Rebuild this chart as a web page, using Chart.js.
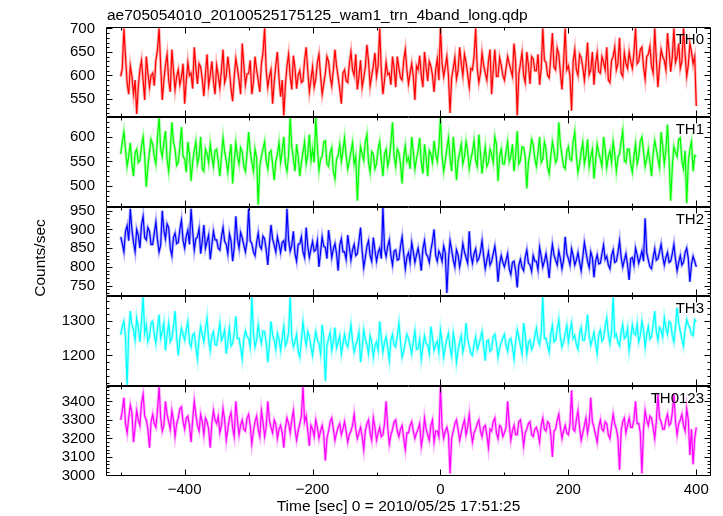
<!DOCTYPE html>
<html><head><meta charset="utf-8">
<script src="https://cdn.jsdelivr.net/npm/chart.js@4/dist/chart.umd.min.js"></script>
<style>html,body{margin:0;padding:0;background:#fff;}canvas{display:block;}</style>
</head><body>
<canvas id="c" width="723" height="516"></canvas>
<script>
const TIME = [
-500,-497.5,-495,-492.5,-490,-487.5,-485,-482.5,-480,-477.5,-475,-472.5,-470,-467.5,-465,-462.5,-460,-457.5,-455,-452.5,
-450,-447.5,-445,-442.5,-440,-437.5,-435,-432.5,-430,-427.5,-425,-422.5,-420,-417.5,-415,-412.5,-410,-407.5,-405,-402.5,
-400,-397.5,-395,-392.5,-390,-387.5,-385,-382.5,-380,-377.5,-375,-372.5,-370,-367.5,-365,-362.5,-360,-357.5,-355,-352.5,
-350,-347.5,-345,-342.5,-340,-337.5,-335,-332.5,-330,-327.5,-325,-322.5,-320,-317.5,-315,-312.5,-310,-307.5,-305,-302.5,
-300,-297.5,-295,-292.5,-290,-287.5,-285,-282.5,-280,-277.5,-275,-272.5,-270,-267.5,-265,-262.5,-260,-257.5,-255,-252.5,
-250,-247.5,-245,-242.5,-240,-237.5,-235,-232.5,-230,-227.5,-225,-222.5,-220,-217.5,-215,-212.5,-210,-207.5,-205,-202.5,
-200,-197.5,-195,-192.5,-190,-187.5,-185,-182.5,-180,-177.5,-175,-172.5,-170,-167.5,-165,-162.5,-160,-157.5,-155,-152.5,
-150,-147.5,-145,-142.5,-140,-137.5,-135,-132.5,-130,-127.5,-125,-122.5,-120,-117.5,-115,-112.5,-110,-107.5,-105,-102.5,
-100,-97.5,-95,-92.5,-90,-87.5,-85,-82.5,-80,-77.5,-75,-72.5,-70,-67.5,-65,-62.5,-60,-57.5,-55,-52.5,
-50,-47.5,-45,-42.5,-40,-37.5,-35,-32.5,-30,-27.5,-25,-22.5,-20,-17.5,-15,-12.5,-10,-7.5,-5,-2.5,
0,2.5,5,7.5,10,12.5,15,17.5,20,22.5,25,27.5,30,32.5,35,37.5,40,42.5,45,47.5,
50,52.5,55,57.5,60,62.5,65,67.5,70,72.5,75,77.5,80,82.5,85,87.5,90,92.5,95,97.5,
100,102.5,105,107.5,110,112.5,115,117.5,120,122.5,125,127.5,130,132.5,135,137.5,140,142.5,145,147.5,
150,152.5,155,157.5,160,162.5,165,167.5,170,172.5,175,177.5,180,182.5,185,187.5,190,192.5,195,197.5,
200,202.5,205,207.5,210,212.5,215,217.5,220,222.5,225,227.5,230,232.5,235,237.5,240,242.5,245,247.5,
250,252.5,255,257.5,260,262.5,265,267.5,270,272.5,275,277.5,280,282.5,285,287.5,290,292.5,295,297.5,
300,302.5,305,307.5,310,312.5,315,317.5,320,322.5,325,327.5,330,332.5,335,337.5,340,342.5,345,347.5,
350,352.5,355,357.5,360,362.5,365,367.5,370,372.5,375,377.5,380,382.5,385,387.5,390,392.5,395,397.5,
400];
const TH0 = [
598,615,700,640,585,560,620,598,560,590,518,575,612,632,590,548,640,605,575,600,
605,578,632,655,700,620,548,590,622,645,590,565,655,610,570,598,612,580,596,625,
540,588,628,600,605,572,660,615,582,625,618,592,556,603,645,578,600,630,587,560,
622,600,574,612,655,585,598,640,610,572,545,598,636,615,590,560,668,622,580,603,
604,632,560,585,640,612,590,565,625,648,700,610,575,598,612,540,585,622,650,595,
555,590,515,580,620,645,598,570,642,615,572,600,610,585,588,632,660,610,565,592,
618,575,592,628,645,600,560,582,605,640,630,598,578,612,655,620,596,570,540,605,
612,588,585,625,650,612,600,645,570,598,632,575,595,618,665,630,578,600,620,648,
598,622,700,610,560,590,628,602,605,580,640,615,575,640,615,595,590,632,655,612,
582,605,625,598,548,620,612,642,600,575,650,618,588,630,620,600,565,612,635,590,
703,625,598,618,640,600,520,595,615,638,592,610,660,625,600,645,628,602,575,615,
612,640,700,615,585,605,648,622,605,590,630,655,560,612,655,598,598,638,622,600,
590,615,640,625,612,598,668,630,515,602,625,648,600,585,650,622,582,640,635,610,
610,645,580,615,700,632,628,600,595,640,690,618,612,658,645,605,570,628,700,612,
620,598,525,630,655,612,600,645,638,618,590,625,670,602,612,650,580,625,648,608,
605,640,628,612,660,590,585,632,640,660,612,625,680,605,598,648,625,615,650,630,
615,648,700,625,630,655,660,618,592,640,645,662,620,605,700,635,575,620,655,640,
632,612,690,650,608,640,700,628,640,668,615,630,700,645,598,622,668,650,625,640,
535];
const TH1 = [
565,590,610,575,540,560,588,545,520,568,575,548,552,582,600,560,498,540,570,595,
585,560,545,600,640,575,560,588,612,555,530,572,630,590,575,542,548,580,620,560,
555,528,590,565,510,548,572,590,545,560,600,535,530,575,566,548,585,560,540,572,
575,550,520,560,598,570,552,528,560,585,505,550,588,562,545,578,570,540,530,565,
610,572,548,530,575,558,462,540,560,575,590,552,535,568,572,545,512,550,565,588,
548,570,600,545,530,562,640,580,555,530,585,560,520,548,568,590,545,565,605,552,
575,548,640,580,532,555,560,590,592,545,540,568,578,530,515,555,562,585,550,572,
598,562,535,550,570,588,545,560,470,540,580,565,552,590,605,548,528,570,565,535,
545,575,590,552,520,565,575,540,555,588,630,560,540,575,568,545,505,560,582,550,
558,535,600,570,535,555,572,598,548,525,585,560,520,572,565,548,592,565,550,580,
641,560,530,552,575,598,555,530,600,565,512,550,568,585,545,560,590,570,535,555,
570,592,552,540,605,568,525,555,580,540,548,575,565,548,600,585,510,560,575,545,
545,570,590,550,560,585,530,562,612,545,552,580,578,560,495,548,568,595,585,555,
540,568,600,548,555,590,575,538,525,560,590,572,548,555,630,585,562,540,535,570,
580,555,552,590,610,560,528,545,570,588,545,562,595,540,560,575,515,550,585,568,
555,540,600,575,538,560,572,548,590,565,530,558,565,590,612,552,548,575,575,545,
528,560,585,545,560,592,600,570,540,555,575,548,520,565,592,575,555,538,610,580,
545,575,625,552,470,540,580,568,560,595,598,550,535,572,465,548,575,590,530,562,
560];
const TH2 = [
880,862,840,895,910,870,955,900,865,840,900,885,850,912,935,878,872,905,895,860,
860,890,920,872,840,858,950,898,875,915,905,850,830,878,890,862,865,900,925,870,
850,882,898,860,955,895,845,875,880,902,835,868,912,850,868,885,820,858,895,872,
872,850,845,880,905,868,860,835,888,870,815,852,935,875,850,892,878,858,840,868,
955,870,862,840,830,865,890,855,848,882,875,845,805,862,912,875,858,840,880,860,
838,865,870,842,955,872,842,858,895,835,815,860,862,880,840,825,905,855,826,848,
868,842,845,870,800,838,880,855,852,822,898,865,825,848,862,835,790,858,875,840,
840,820,885,852,818,845,860,830,835,868,905,842,798,825,855,870,830,815,878,845,
815,838,850,822,960,848,828,855,872,830,805,842,845,818,820,855,880,835,795,826,
838,812,865,840,812,832,850,825,790,848,870,835,828,812,845,868,900,830,815,842,
832,815,855,838,730,820,870,845,818,800,845,832,800,825,862,840,825,810,895,832,
810,835,848,815,822,840,870,828,795,818,840,805,815,835,855,822,760,808,830,812,
800,818,835,795,780,812,815,790,745,805,820,798,790,825,845,810,805,788,830,815,
815,792,852,828,800,815,835,808,770,825,860,832,818,805,842,822,795,818,880,835,
822,805,848,830,805,818,838,812,790,825,865,840,815,798,840,825,772,815,832,808,
810,835,858,820,828,805,795,830,845,812,815,838,870,825,800,818,835,805,765,822,
825,805,850,832,810,825,842,815,930,838,818,800,795,825,848,818,822,840,860,828,
805,825,838,812,815,835,860,820,790,812,830,805,812,838,850,822,760,808,828,815,
800];
const TH3 = [
1260,1285,1300,1255,1112,1270,1330,1290,1275,1245,1310,1282,1240,1300,1372,1265,1290,1240,1255,1295,
1300,1262,1235,1280,1320,1250,1270,1295,1215,1260,1295,1240,1250,1285,1330,1255,1200,1248,1280,1262,
1245,1275,1300,1238,1225,1260,1265,1225,1190,1250,1285,1262,1240,1278,1310,1245,1215,1258,1270,1232,
1230,1262,1295,1245,1255,1275,1205,1240,1280,1228,1235,1265,1315,1250,1250,1222,1190,1248,1272,1255,
1250,1225,1372,1268,1225,1245,1290,1255,1235,1272,1270,1238,1180,1232,1300,1260,1245,1218,1265,1248,
1215,1250,1285,1228,1240,1268,1372,1255,1225,1240,1262,1212,1195,1245,1298,1258,1230,1270,1255,1225,
1200,1238,1270,1245,1235,1205,1290,1252,1125,1228,1250,1268,1215,1240,1282,1222,1240,1258,1205,1232,
1262,1235,1225,1255,1290,1242,1210,1230,1245,1268,1180,1222,1275,1248,1232,1205,1258,1240,1195,1228,
1240,1215,1300,1250,1210,1238,1255,1222,1185,1245,1262,1230,1225,1258,1295,1240,1195,1212,1238,1262,
1250,1228,1205,1242,1272,1218,1220,1248,1190,1225,1258,1235,1230,1205,1285,1252,1215,1232,1242,1210,
1275,1240,1195,1225,1248,1265,1222,1198,1265,1238,1180,1215,1240,1258,1210,1235,1295,1248,1228,1205,
1200,1232,1255,1218,1232,1250,1270,1228,1185,1242,1245,1212,1218,1255,1262,1235,1195,1220,1238,1252,
1262,1230,1212,1245,1250,1225,1190,1240,1275,1255,1228,1205,1295,1262,1205,1238,1245,1218,1230,1258,
1280,1245,1232,1265,1372,1250,1250,1228,1210,1262,1288,1240,1245,1275,1305,1252,1225,1240,1265,1288,
1240,1272,1295,1250,1258,1232,1218,1265,1282,1245,1245,1275,1320,1258,1230,1248,1268,1235,1205,1260,
1275,1242,1250,1285,1310,1262,1235,1270,1372,1255,1262,1238,1228,1268,1290,1250,1255,1280,1215,1248,
1290,1265,1260,1292,1240,1258,1300,1275,1225,1262,1285,1248,1255,1290,1330,1270,1245,1282,1275,1255,
1310,1280,1262,1300,1295,1258,1240,1285,1340,1295,1270,1248,1228,1275,1305,1290,1280,1262,1258,1305,
1300];
const TH0123 = [
3300,3350,3420,3280,3230,3310,3380,3340,3180,3260,3350,3300,3270,3390,3440,3320,3300,3250,3150,3290,
3330,3280,3260,3350,3480,3310,3240,3270,3400,3330,3290,3250,3350,3300,3210,3280,3310,3360,3370,3290,
3250,3310,3320,3270,3180,3300,3400,3330,3270,3240,3330,3290,3220,3310,3290,3250,3150,3280,3350,3300,
3280,3320,3230,3270,3360,3300,3190,3250,3310,3340,3260,3210,3400,3300,3220,3270,3300,3250,3240,3310,
3330,3270,3170,3240,3290,3320,3250,3210,3350,3290,3210,3260,3400,3300,3260,3230,3300,3280,3200,3250,
3270,3230,3150,3260,3310,3280,3230,3300,3350,3250,3190,3240,3280,3320,3480,3290,3320,3240,3160,3270,
3250,3210,3300,3260,3200,3240,3270,3220,3080,3200,3240,3290,3310,3250,3190,3230,3260,3280,3220,3250,
3290,3240,3180,3220,3240,3270,3330,3250,3200,3230,3260,3210,3140,3240,3280,3300,3230,3190,3310,3260,
3190,3230,3260,3210,3220,3280,3400,3260,3170,3220,3250,3290,3300,3240,3210,3250,3270,3200,3140,3230,
3230,3270,3290,3240,3200,3230,3250,3280,3160,3210,3310,3250,3220,3190,3270,3300,3180,3240,3240,3210,
3480,3260,3200,3240,3260,3220,3010,3200,3240,3280,3300,3250,3190,3230,3270,3300,3220,3260,3330,3240,
3180,3230,3250,3280,3300,3240,3210,3260,3270,3220,3150,3250,3240,3290,3310,3230,3200,3270,3260,3210,
3230,3260,3400,3280,3190,3240,3270,3220,3220,3290,3300,3240,3160,3230,3250,3280,3290,3220,3210,3250,
3260,3230,3180,3270,3310,3250,3240,3290,3280,3220,3100,3240,3250,3300,3330,3260,3200,3240,3270,3230,
3220,3280,3460,3250,3240,3300,3350,3260,3190,3230,3270,3310,3230,3280,3420,3290,3260,3220,3180,3260,
3300,3250,3240,3290,3280,3220,3200,3270,3330,3280,3250,3200,3030,3240,3290,3310,3230,3270,3310,3260,
3260,3300,3400,3280,3280,3230,3010,3250,3350,3300,3270,3320,3310,3260,3200,3290,3440,3310,3290,3250,
3250,3300,3330,3270,3280,3340,3440,3290,3220,3280,3300,3330,3270,3240,3360,3300,3110,3250,3060,3200,
3260];

const PANEL_NAMES = ['TH0','TH1','TH2','TH3','TH0123'];
const PANEL_COLORS = ['#ff0000','#00ff00','#0000ff','#00ffff','#ff00ff'];
const PANEL_HALO = ['rgba(255,0,0,0.3)','rgba(0,255,0,0.3)','rgba(0,0,255,0.3)','rgba(0,255,255,0.3)','rgba(255,0,255,0.3)'];
const Y_RANGES = [[512,703],[458,641],[721,961],[1110,1373],[2997,3482]];
const Y_TICKS = [[550,600,650,700],[500,550,600],[750,800,850,900,950],[1200,1300],[3000,3100,3200,3300,3400]];
const Y_MINOR = [10,10,10,20,20];
const X_TICKS = [-400,-200,0,200,400];
const X_RANGE = [-523,423];
const X_MINOR = 100;
const TITLE = 'ae705054010_20100525175125_wam1_trn_4band_long.qdp';
const X_TITLE = 'Time [sec] 0 = 2010/05/25 17:51:25';
const Y_TITLE = 'Counts/sec';

const FONT = '"Liberation Sans", Arial, Helvetica, sans-serif';
const SERIES = [TH0, TH1, TH2, TH3, TH0123];

const datasets = [];
SERIES.forEach((s, i) => {
  const pts = s.map((v, j) => ({x: TIME[j], y: v}));
  datasets.push({
    label: PANEL_NAMES[i] + ' band', data: pts,
    borderColor: PANEL_HALO[i], borderWidth: 3, pointRadius: 0, tension: 0,
    fill: false, xAxisID: 'x', yAxisID: 'y' + i, order: 2
  });
  datasets.push({
    label: PANEL_NAMES[i], data: pts,
    borderColor: PANEL_COLORS[i], borderWidth: 1.2, pointRadius: 0, tension: 0,
    fill: false, xAxisID: 'x', yAxisID: 'y' + i, order: 1
  });
});

const scales = {
  x: {
    type: 'linear', position: 'bottom', min: X_RANGE[0], max: X_RANGE[1],
    afterBuildTicks: s => { s.ticks = X_TICKS.map(v => ({value: v})); },
    afterFit: s => { s.height = 40; },
    grid: {display: false, drawTicks: false}, border: {display: false},
    ticks: {autoSkip: false, maxRotation: 0, padding: 5, color: '#000',
      font: {family: FONT, size: 15},
      callback: v => v < 0 ? '\u2212' + Math.abs(v) : String(v)}
  }
};
for (let i = 0; i < 5; i++) {
  scales['y' + i] = {
    type: 'linear', position: 'left', stack: 'panels', stackWeight: 1, weight: 5 - i,
    min: Y_RANGES[i][0], max: Y_RANGES[i][1],
    afterBuildTicks: s => { s.ticks = Y_TICKS[i].map(v => ({value: v})); },
    afterFit: s => { s.width = 106; },
    grid: {display: false, drawTicks: false}, border: {display: false},
    ticks: {autoSkip: false, padding: 11, color: '#000',
      font: {family: FONT, size: 15}, callback: v => String(v)}
  };
}

const framePlugin = {
  id: 'frame',
  afterDatasetsDraw(chart) {
    const ctx = chart.ctx, ca = chart.chartArea, xs = chart.scales.x;
    ctx.save();
    ctx.strokeStyle = '#000';
    ctx.lineWidth = 1;
    const L = Math.round(ca.left) + 0.5, R = Math.round(ca.right) - 0.5;
    for (let i = 0; i < 5; i++) {
      const ys = chart.scales['y' + i];
      const T = Math.round(ys.top) + 0.5, B = Math.round(ys.bottom) - 0.5;
      ctx.beginPath();
      ctx.rect(L, T, R - L, B - T);
      for (let t = Math.ceil(xs.min / X_MINOR) * X_MINOR; t <= xs.max; t += X_MINOR) {
        const px = Math.round(xs.getPixelForValue(t)) + 0.5;
        const len = X_TICKS.includes(t) ? 6 : 3;
        ctx.moveTo(px, T); ctx.lineTo(px, T + len);
        ctx.moveTo(px, B); ctx.lineTo(px, B - len);
      }
      const step = Y_MINOR[i];
      for (let v = Math.ceil(ys.min / step) * step; v <= ys.max; v += step) {
        const py = Math.round(ys.getPixelForValue(v)) + 0.5;
        const len = Y_TICKS[i].includes(v) ? 6 : 3;
        ctx.moveTo(L, py); ctx.lineTo(L + len, py);
        ctx.moveTo(R, py); ctx.lineTo(R - len, py);
      }
      ctx.stroke();
      ctx.fillStyle = '#000';
      ctx.font = '15px ' + FONT;
      ctx.textAlign = 'right';
      ctx.textBaseline = 'alphabetic';
      ctx.fillText(PANEL_NAMES[i], 704, ys.top + 17);
    }
    ctx.textAlign = 'left';
    ctx.font = '15.5px ' + FONT;
    ctx.fillText(TITLE, 107, 20);
    ctx.textAlign = 'center';
    ctx.textBaseline = 'middle';
    ctx.fillText(X_TITLE, 398.5, 507);
    ctx.translate(41, 258);
    ctx.rotate(-Math.PI / 2);
    ctx.fillText(Y_TITLE, 0, 0);
    ctx.restore();
  }
};

new Chart(document.getElementById('c'), {
  type: 'line',
  data: {datasets},
  options: {
    responsive: false,
    animation: false,
    devicePixelRatio: 1,
    parsing: false,
    layout: {padding: {left: 0, right: 12, top: 27, bottom: 0}},
    plugins: {legend: {display: false}, tooltip: {enabled: false}, title: {display: false}},
    scales
  },
  plugins: [framePlugin]
});
</script>
</body></html>
